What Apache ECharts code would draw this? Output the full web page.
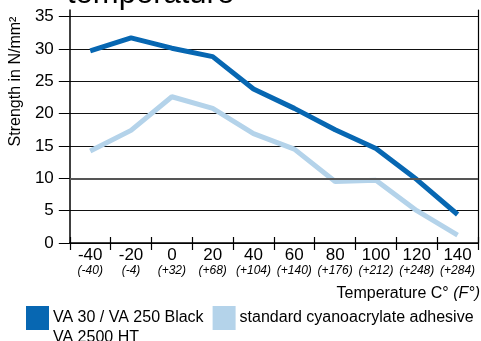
<!DOCTYPE html>
<html>
<head>
<meta charset="utf-8">
<script src="https://cdn.jsdelivr.net/npm/echarts@6/dist/echarts.min.js"></script>
<style>
  html, body { margin: 0; padding: 0; background: #fff; }
  #chart { width: 481px; height: 341px; }
</style>
</head>
<body>
<div id="chart"></div>
<script>
// Temperature categories (°C) and their Fahrenheit equivalents
const categories = ['-40', '-20', '0', '20', '40', '60', '80', '100', '120', '140'];
const fahrenheit = ['(-40)', '(-4)', '(+32)', '(+68)', '(+104)', '(+140)', '(+176)', '(+212)', '(+248)', '(+284)'];

// Strength in N/mm² per temperature
const va30Values = [29.7, 31.7, 30.1, 28.8, 23.8, 20.8, 17.5, 14.6, 9.8, 4.4];
const cyanoValues = [14.2, 17.4, 22.6, 20.8, 16.9, 14.5, 9.5, 9.7, 5.0, 1.2];

// Y axis tick values
const yTicks = [0, 5, 10, 15, 20, 25, 30, 35];

const seriesNames = ['VA 30 / VA 250 Black\nVA 2500 HT', 'standard cyanoacrylate adhesive'];
const colors = ['#0767b2', '#b4d3ea'];

const FONT = '"Liberation Sans", Arial, Helvetica, sans-serif';

const chart = echarts.init(document.getElementById('chart'), null, { renderer: 'canvas' });

chart.setOption({
  animation: false,
  backgroundColor: '#fff',
  textStyle: { fontFamily: FONT, color: '#000' },
  title: [
    {
      text: 'temperature',
      left: 67,
      top: -21,
      padding: 0,
      textStyle: { fontSize: 31, fontWeight: 'normal', color: '#000', fontFamily: FONT }
    },
    {
      text: 'Temperature C° {i|(F°)}',
      right: 1,
      top: 286,
      padding: 0,
      textStyle: {
        fontSize: 16, fontWeight: 'normal', color: '#000', fontFamily: FONT,
        rich: { i: { fontSize: 16, fontStyle: 'italic', color: '#000', fontFamily: FONT } }
      }
    }
  ],
  legend: {
    data: seriesNames,
    left: 26,
    top: 288,
    padding: 0,
    orient: 'horizontal',
    itemWidth: 23,
    itemHeight: 24,
    itemGap: 9,
    icon: 'rect',
    selectedMode: false,
    formatter: name => name.indexOf('\n') >= 0 ? '\n' + name : name,
    textStyle: { fontSize: 16, lineHeight: 20, color: '#000', fontFamily: FONT, padding: [0, 0, 0, -1] }
  },
  grid: { left: 69, right: 3, top: 10, bottom: 98, containLabel: false },
  xAxis: [
    {
      type: 'category',
      data: categories,
      boundaryGap: true,
      position: 'bottom',
      axisLine: { show: true, lineStyle: { color: '#000', width: 1.5 } },
      axisTick: { show: true, interval: 0, length: 7, lineStyle: { color: '#000', width: 1.2 } },
      axisLabel: {
        interval: 0,
        margin: 4,
        color: '#000',
        formatter: (value, idx) => '{a|' + value + '}\n{b|' + fahrenheit[idx] + '}',
        rich: {
          a: { fontSize: 17, lineHeight: 16, color: '#000', fontFamily: FONT },
          b: { fontSize: 12, lineHeight: 15, fontStyle: 'italic', color: '#000', fontFamily: FONT }
        }
      },
      splitLine: { show: false }
    },
    {
      type: 'category',
      data: categories,
      boundaryGap: true,
      position: 'bottom',
      axisLine: { show: false },
      axisTick: { show: true, inside: true, interval: 0, length: 6, lineStyle: { color: '#000', width: 1.2 } },
      axisLabel: { show: false },
      splitLine: { show: false }
    }
  ],
  yAxis: [
    {
      type: 'value',
      min: 0,
      max: 36,
      interval: 5,
      name: 'Strength in N/mm²',
      nameLocation: 'middle',
      nameRotate: 90,
      nameGap: 43,
      nameTextStyle: { fontSize: 16, color: '#000', fontFamily: FONT, padding: [0, 0, 0, 90] },
      axisLine: { show: true, lineStyle: { color: '#000', width: 1.5 } },
      axisTick: { show: true, length: 11, customValues: yTicks, lineStyle: { color: '#000', width: 1 } },
      axisLabel: { customValues: yTicks, fontSize: 17, margin: 16, color: '#000', fontFamily: FONT },
      splitLine: { show: true, lineStyle: { color: '#111', width: 1 } }
    },
    {
      type: 'value',
      min: 0,
      max: 36,
      position: 'right',
      axisLine: { show: true, lineStyle: { color: '#000', width: 1.2 } },
      axisTick: { show: false },
      axisLabel: { show: false },
      splitLine: { show: false }
    }
  ],
  series: [
    {
      // emphasised 10 N/mm² reference line, kept under the curves
      type: 'line',
      name: 'ref',
      data: [],
      z: 1,
      silent: true,
      markLine: {
        silent: true,
        symbol: 'none',
        label: { show: false },
        lineStyle: { color: '#555', width: 2, type: 'solid' },
        data: [{ yAxis: 10 }]
      }
    },
    {
      type: 'line',
      name: seriesNames[1],
      data: cyanoValues,
      symbol: 'none',
      z: 3,
      itemStyle: { color: colors[1] },
      lineStyle: { color: colors[1], width: 5 }
    },
    {
      type: 'line',
      name: seriesNames[0],
      data: va30Values,
      symbol: 'none',
      z: 4,
      itemStyle: { color: colors[0] },
      lineStyle: { color: colors[0], width: 5 }
    }
  ]
});
</script>
</body>
</html>
